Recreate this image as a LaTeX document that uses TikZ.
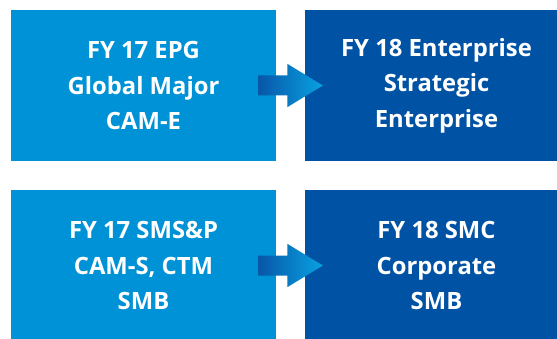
\documentclass[tikz,border=0pt]{standalone}
\usepackage{fontspec}
\setmainfont{Open Sans}
\usetikzlibrary{calc}
\definecolor{oldblue}{RGB}{0,146,214}
\definecolor{newblue}{RGB}{0,82,164}
\definecolor{arrowdark}{RGB}{8,86,168}
\definecolor{arrowlight}{RGB}{8,162,226}
\tikzstyle{box}=[rectangle, minimum width=265pt, minimum height=151pt, inner sep=0pt, anchor=center, align=center, text=white, font=\bfseries\fontsize{23.8}{35.5}\selectfont]
\tikzstyle{oldbox}=[box, fill=oldblue]
\tikzstyle{newbox}=[box, fill=newblue, minimum width=263pt]
% block arrow reaching 18pt into both boxes
\newcommand{\movearrow}[2]
{
  \path[left color=arrowdark, right color=arrowlight] let \p1 = ($(#1.east)+(-18pt,0)$), \p2 = ($(#2.west)+(18pt,0)$) in
    (\x1,\y1+10pt) -- (\x2-35.5pt,\y1+10pt) -- (\x2-35.5pt,\y1+21.7pt) -- (\x2,\y1) -- (\x2-35.5pt,\y1-21.7pt) -- (\x2-35.5pt,\y1-10pt) -- (\x1,\y1-10pt) -- cycle;
}

\begin{document}
\begin{tikzpicture}[x=1pt,y=1pt]
	\useasboundingbox (0,0) rectangle (557,338);

	\node[oldbox](epg) at (143.5,252.5){FY 17 EPG\\Global Major\\CAM-E};
	\node[newbox](enterprise) at (436.5,252.5){FY 18 Enterprise\\Strategic\\Enterprise};
	\node[oldbox](smsp) at (143.5,72.5){FY 17 SMS\&P\\CAM-S, CTM\\SMB};
	\node[newbox](smc) at (436.5,72.5){FY 18 SMC\\Corporate\\SMB};

	\movearrow{epg}{enterprise}
	\movearrow{smsp}{smc}
\end{tikzpicture}
\end{document}
